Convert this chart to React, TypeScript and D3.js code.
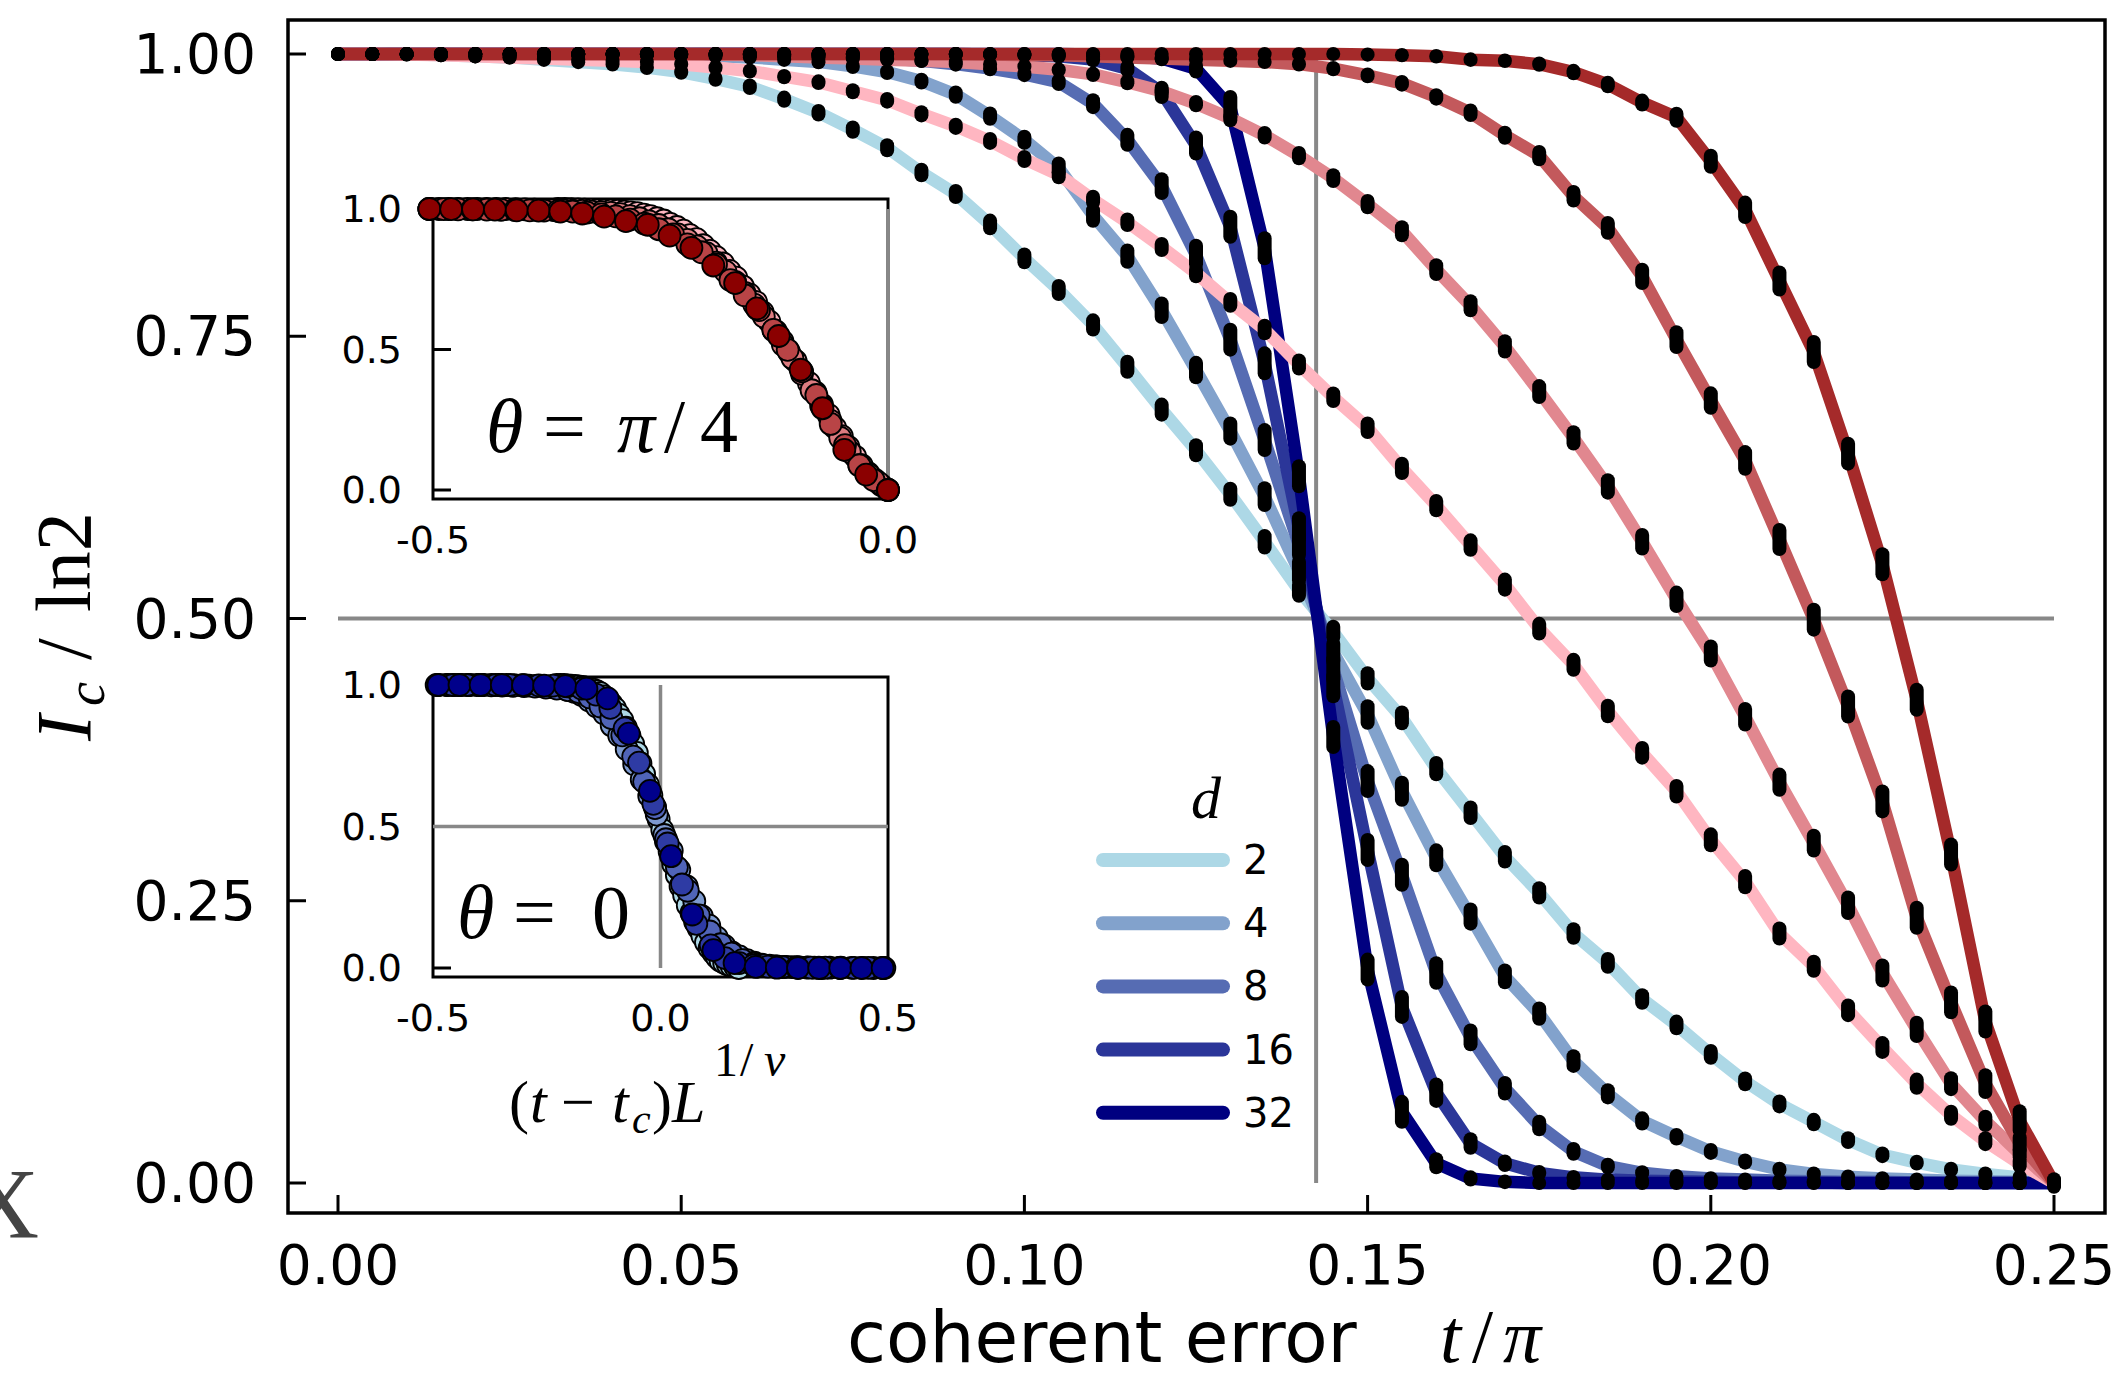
import React, { useEffect } from 'react';
import * as d3 from 'd3';

// sample points, coherent error t/π
const tValues = [
  0, 0.005, 0.01, 0.015, 0.02, 0.025, 0.03, 0.035, 0.04, 0.045,
  0.05, 0.055, 0.06, 0.065, 0.07, 0.075, 0.08, 0.085, 0.09, 0.095,
  0.1, 0.105, 0.11, 0.115, 0.12, 0.125, 0.13, 0.135, 0.14, 0.145,
  0.15, 0.155, 0.16, 0.165, 0.17, 0.175, 0.18, 0.185, 0.19, 0.195,
  0.2, 0.205, 0.21, 0.215, 0.22, 0.225, 0.23, 0.235, 0.24, 0.245, 0.25,
];

// theta = 0, bond dimension d = 2, 4, 8, 16, 32
const blueD2 = [
  1.0, 1.0, 1.0, 0.999, 0.998, 0.997, 0.995, 0.993, 0.991, 0.988,
  0.984, 0.978, 0.971, 0.96, 0.948, 0.933, 0.917, 0.895, 0.876, 0.849,
  0.819, 0.791, 0.76, 0.723, 0.685, 0.649, 0.61, 0.568, 0.525, 0.488,
  0.447, 0.412, 0.367, 0.328, 0.289, 0.257, 0.221, 0.195, 0.163, 0.14,
  0.114, 0.09, 0.07, 0.054, 0.038, 0.025, 0.018, 0.012, 0.008, 0.005, 0.0,
];
const blueD4 = [
  1.0, 1.0, 1.0, 1.0, 1.0, 1.0, 1.0, 1.0, 1.0, 0.9995,
  0.999, 0.998, 0.997, 0.995, 0.993, 0.989, 0.984, 0.976, 0.964, 0.945,
  0.924, 0.899, 0.857, 0.821, 0.773, 0.72, 0.666, 0.608, 0.542, 0.47,
  0.415, 0.347, 0.288, 0.236, 0.183, 0.15, 0.108, 0.079, 0.055, 0.041,
  0.028, 0.019, 0.012, 0.008, 0.0056, 0.004, 0.003, 0.002, 0.0015, 0.001, 0.0,
];
const blueD8 = [
  1.0, 1.0, 1.0, 1.0, 1.0, 1.0, 1.0, 1.0, 1.0, 1.0,
  1.0, 1.0, 1.0, 0.999, 0.998, 0.997, 0.996, 0.994, 0.991, 0.987,
  0.982, 0.975, 0.956, 0.924, 0.883, 0.822, 0.747, 0.658, 0.565, 0.455,
  0.356, 0.273, 0.186, 0.129, 0.084, 0.051, 0.028, 0.015, 0.009, 0.006,
  0.004, 0.003, 0.002, 0.0015, 0.001, 0.001, 0.0005, 0.0005, 0.0, 0.0, 0.0,
];
const blueD16 = [
  1.0, 1.0, 1.0, 1.0, 1.0, 1.0, 1.0, 1.0, 1.0, 1.0,
  1.0, 1.0, 1.0, 1.0, 1.0, 1.0, 1.0, 1.0, 1.0, 0.9995,
  0.999, 0.998, 0.995, 0.987, 0.966, 0.919, 0.847, 0.726, 0.58, 0.44,
  0.295, 0.156, 0.08, 0.035, 0.0175, 0.009, 0.005, 0.003, 0.002, 0.0015,
  0.001, 0.0005, 0.0005, 0.0005, 0.0, 0.0, 0.0, 0.0, 0.0, 0.0, 0.0,
];
const blueD32 = [
  1.0, 1.0, 1.0, 1.0, 1.0, 1.0, 1.0, 1.0, 1.0, 1.0,
  1.0, 1.0, 1.0, 1.0, 1.0, 1.0, 1.0, 1.0, 1.0, 1.0,
  1.0, 1.0, 0.9995, 0.998, 0.996, 0.987, 0.953, 0.828, 0.626, 0.395,
  0.189, 0.063, 0.0175, 0.004, 0.001, 0.0, 0.0, 0.0, 0.0, 0.0,
  0.0, 0.0, 0.0, 0.0, 0.0, 0.0, 0.0, 0.0, 0.0, 0.0, 0.0,
];

// theta = π/4
const redD2 = [
  1.0, 1.0, 0.9995, 0.999, 0.998, 0.997, 0.996, 0.995, 0.994, 0.993,
  0.991, 0.988, 0.985, 0.98, 0.975, 0.967, 0.959, 0.947, 0.936, 0.923,
  0.907, 0.893, 0.871, 0.851, 0.829, 0.806, 0.78, 0.756, 0.725, 0.696,
  0.669, 0.633, 0.6, 0.565, 0.53, 0.491, 0.459, 0.418, 0.381, 0.347,
  0.304, 0.267, 0.221, 0.192, 0.153, 0.12, 0.088, 0.06, 0.037, 0.017, 0.0,
];
const redD4 = [
  1.0, 1.0, 1.0, 1.0, 1.0, 1.0, 1.0, 1.0, 1.0, 1.0,
  1.0, 0.9995, 0.999, 0.998, 0.997, 0.996, 0.995, 0.994, 0.993, 0.991,
  0.989, 0.986, 0.982, 0.975, 0.967, 0.956, 0.943, 0.928, 0.91, 0.89,
  0.867, 0.843, 0.809, 0.777, 0.741, 0.701, 0.66, 0.617, 0.568, 0.517,
  0.469, 0.413, 0.355, 0.301, 0.246, 0.186, 0.136, 0.088, 0.055, 0.026, 0.0,
];
const redD8 = [
  1.0, 1.0, 1.0, 1.0, 1.0, 1.0, 1.0, 1.0, 1.0, 1.0,
  1.0, 1.0, 1.0, 1.0, 1.0, 1.0, 1.0, 1.0, 1.0, 0.9995,
  0.999, 0.999, 0.998, 0.997, 0.996, 0.995, 0.994, 0.993, 0.991, 0.987,
  0.981, 0.974, 0.962, 0.948, 0.928, 0.91, 0.874, 0.846, 0.803, 0.747,
  0.693, 0.64, 0.57, 0.499, 0.422, 0.338, 0.235, 0.16, 0.088, 0.035, 0.0,
];
const redD16 = [
  1.0, 1.0, 1.0, 1.0, 1.0, 1.0, 1.0, 1.0, 1.0, 1.0,
  1.0, 1.0, 1.0, 1.0, 1.0, 1.0, 1.0, 1.0, 1.0, 1.0,
  1.0, 1.0, 1.0, 1.0, 1.0, 1.0, 1.0, 1.0, 1.0, 1.0,
  0.9995, 0.999, 0.998, 0.995, 0.994, 0.991, 0.984, 0.973, 0.957, 0.944,
  0.905, 0.862, 0.799, 0.736, 0.646, 0.548, 0.428, 0.291, 0.143, 0.055, 0.0,
];

const legendLabels = ['2', '4', '8', '16', '32'];
const blueColors = ['#add8e6', '#82a2cc', '#566cb3', '#2b3699', '#000080'];
const redColors = ['#ffb6c1', '#e1878f', '#c3595c', '#a52a2a'];
const blueMarkerColors = ['#add8e6', '#7d9ad0', '#5064b8', '#2e3ba4', '#00008b'];
const redMarkerColors = ['#ffb6c1', '#dc7c80', '#b94446', '#8b0000'];

// collapse parameters: x' = (t - tc) * scale
const tcTheta0 = 0.1425;
const tcThetaPi4 = 0.25;
const blueCollapseScale = [1.6, 3.3, 4.8, 6.3, 9.3];
const redCollapseScale = [1.45, 2.1, 3.15, 4.8];

const mainXTicks = [0, 0.05, 0.1, 0.15, 0.2, 0.25];
const mainYTicks = [0, 0.25, 0.5, 0.75, 1];
const insetYTicks = [0, 0.5, 1];
const insetXTicksPi4 = [-0.5, 0];
const insetXTicks0 = [-0.5, 0, 0.5];

const blueSeries = [blueD2, blueD4, blueD8, blueD16, blueD32];
const redSeries = [redD2, redD4, redD8, redD16];

const SANS = 'DejaVu Sans, sans-serif';
const SERIF = 'Liberation Serif, serif';
const GRAY = '#888888';

// plain hyphen for negative tick labels
const fmt1 = (v: number) => d3.format('.1f')(v).replace('−', '-');
const fmt2 = (v: number) => d3.format('.2f')(v);

type InsetProps = {
  frame: { left: number; right: number; top: number; bottom: number };
  xDomain: [number, number];
  yRange: [number, number];
  xTicks: number[];
  series: number[][];
  colors: string[];
  scales: number[];
  tc: number;
  hLine?: boolean;
};

function Inset({ frame, xDomain, yRange, xTicks, series, colors, scales, tc, hLine }: InsetProps) {
  const xs = d3.scaleLinear().domain(xDomain).range([frame.left, frame.right]);
  const ys = d3.scaleLinear().domain([0, 1]).range(yRange);
  return (
    <g>
      <rect x={frame.left} y={frame.top} width={frame.right - frame.left} height={frame.bottom - frame.top}
        fill="white" stroke="black" strokeWidth={3} />
      {insetYTicks.map(v => (
        <g key={v}>
          <line x1={frame.left} x2={frame.left + 18} y1={ys(v)} y2={ys(v)} stroke="black" strokeWidth={3} />
          <text x={402} y={ys(v)} dominantBaseline="central" textAnchor="end"
            fontFamily={SANS} fontSize={38}>{fmt1(v)}</text>
        </g>
      ))}
      {xTicks.map(v => (
        <text key={v} x={xs(v)} y={frame.bottom + 54} textAnchor="middle"
          fontFamily={SANS} fontSize={38}>{fmt1(v)}</text>
      ))}
      {hLine && (
        <line x1={xs(xDomain[0])} x2={xs(xDomain[1])} y1={ys(0.5)} y2={ys(0.5)} stroke={GRAY} strokeWidth={3.5} />
      )}
      <line x1={xs(0)} x2={xs(0)} y1={ys(1)} y2={ys(0)} stroke={GRAY} strokeWidth={3.5} />
      {series.map((vals, k) => (
        <g key={k}>
          {vals.map((v, i) => {
            const xp = (tValues[i] - tc) * scales[k];
            if (xp < xDomain[0] - 0.012 || xp > xDomain[1] + 0.012) return null;
            return (
              <circle key={i} cx={xs(xp)} cy={ys(v)} r={11} fill={colors[k]} stroke="black" strokeWidth={1.8} />
            );
          })}
        </g>
      ))}
    </g>
  );
}

export default function App() {
  useEffect(() => {
    document.body.style.margin = '0';
  }, []);

  const frame = { left: 288, top: 20, right: 2105, bottom: 1213 };
  const x = d3.scaleLinear().domain([0, 0.25]).range([338, 2054]);
  const y = d3.scaleLinear().domain([0, 1]).range([1183, 54]);
  const line = d3.line<number>().x((_, i) => x(tValues[i])).y(v => y(v));

  // vertical stretch of the sample markers follows the local drop of the curve
  const dotHalf = (vals: number[], i: number) => {
    const a = vals[Math.max(0, i - 1)];
    const b = vals[Math.min(vals.length - 1, i + 1)];
    return Math.min(10, Math.abs(y(a) - y(b)) * 0.06);
  };

  const allSeries = [...blueSeries, ...redSeries];
  const allColors = [...blueColors, ...redColors];

  return (
    <svg width={2120} height={1378} style={{ display: 'block', background: 'white' }}>
      {/* reference lines */}
      <line x1={x(0)} x2={x(0.25)} y1={y(0.5)} y2={y(0.5)} stroke={GRAY} strokeWidth={4} />
      <line x1={x(tcTheta0)} x2={x(tcTheta0)} y1={y(1)} y2={y(0)} stroke={GRAY} strokeWidth={4} />

      {/* curves */}
      {allSeries.map((vals, k) => (
        <path key={k} d={line(vals) || ''} fill="none" stroke={allColors[k]} strokeWidth={12.5}
          strokeLinejoin="round" strokeLinecap="round" />
      ))}

      {/* sampled points */}
      {allSeries.map((vals, k) => (
        <g key={'d' + k}>
          {vals.map((v, i) => {
            const h = dotHalf(vals, i);
            return (
              <line key={i} x1={x(tValues[i])} x2={x(tValues[i])} y1={y(v) - h} y2={y(v) + h}
                stroke="black" strokeWidth={14} strokeLinecap="round" />
            );
          })}
        </g>
      ))}

      {/* frame and ticks */}
      <rect x={frame.left} y={frame.top} width={frame.right - frame.left} height={frame.bottom - frame.top}
        fill="none" stroke="black" strokeWidth={3.5} />
      {mainYTicks.map(v => (
        <g key={v}>
          <line x1={frame.left} x2={frame.left + 18} y1={y(v)} y2={y(v)} stroke="black" strokeWidth={3} />
          <text x={256} y={y(v)} dominantBaseline="central" textAnchor="end"
            fontFamily={SANS} fontSize={55}>{fmt2(v)}</text>
        </g>
      ))}
      {mainXTicks.map(v => (
        <g key={v}>
          <line x1={x(v)} x2={x(v)} y1={frame.bottom} y2={frame.bottom - 18} stroke="black" strokeWidth={3} />
          <text x={x(v)} y={1284} textAnchor="middle" fontFamily={SANS} fontSize={55}>{fmt2(v)}</text>
        </g>
      ))}

      {/* axis labels */}
      <text x={847} y={1362} fontFamily={SANS} fontSize={71}>coherent error</text>
      <text y={1362} fontFamily={SERIF} fontSize={76}>
        <tspan x={1440} fontStyle="italic">t</tspan>
        <tspan x={1472}>/</tspan>
        <tspan x={1503} fontStyle="italic">π</tspan>
      </text>
      <g transform="translate(90,0) rotate(-90)">
        <text fontFamily={SERIF} fontSize={78}>
          <tspan x={-741} fontStyle="italic">I</tspan>
          <tspan x={-706} fontStyle="italic" fontSize={54} dy={14}>c</tspan>
          <tspan x={-660} dy={-14}>/</tspan>
          <tspan x={-612}>ln2</tspan>
        </text>
      </g>
      <text x={-33} y={1237} fontFamily={SERIF} fontSize={100} fill="#444">X</text>

      {/* legend */}
      <text x={1206} y={818} textAnchor="middle" fontFamily={SERIF} fontStyle="italic" fontSize={60}>d</text>
      {legendLabels.map((lab, i) => {
        const ly = 860 + i * 63.2;
        return (
          <g key={lab}>
            <line x1={1103} x2={1223} y1={ly} y2={ly} stroke={blueColors[i]} strokeWidth={14} strokeLinecap="round" />
            <text x={1243} y={ly} dominantBaseline="central" fontFamily={SANS} fontSize={40}>{lab}</text>
          </g>
        );
      })}

      {/* inset: theta = pi/4 */}
      <Inset frame={{ left: 433, right: 888, top: 199, bottom: 499 }} xDomain={[-0.5, 0]} yRange={[490, 209]}
        xTicks={insetXTicksPi4} series={redSeries} colors={redMarkerColors} scales={redCollapseScale} tc={tcThetaPi4} />
      <text y={452} fontFamily={SERIF} fontSize={76}>
        <tspan x={486} fontStyle="italic">θ</tspan>
        <tspan x={543}>=</tspan>
        <tspan x={617} fontStyle="italic">π</tspan>
        <tspan x={664}>/</tspan>
        <tspan x={700}>4</tspan>
      </text>

      {/* inset: theta = 0 */}
      <Inset frame={{ left: 433, right: 888, top: 677, bottom: 977 }} xDomain={[-0.5, 0.5]} yRange={[968, 685]}
        xTicks={insetXTicks0} series={blueSeries} colors={blueMarkerColors} scales={blueCollapseScale} tc={tcTheta0} hLine />
      <text y={938} fontFamily={SERIF} fontSize={76}>
        <tspan x={457} fontStyle="italic">θ</tspan>
        <tspan x={513}>=</tspan>
        <tspan x={592}>0</tspan>
      </text>
      <text y={1122} fontFamily={SERIF} fontSize={60}>
        <tspan x={509}>(</tspan>
        <tspan x={530} fontStyle="italic">t</tspan>
        <tspan x={561}>−</tspan>
        <tspan x={612} fontStyle="italic">t</tspan>
        <tspan x={632} fontStyle="italic" fontSize={42} dy={11}>c</tspan>
        <tspan x={652} dy={-11}>)</tspan>
        <tspan x={672} fontStyle="italic">L</tspan>
        <tspan x={714} fontSize={48} dy={-46}>1</tspan>
        <tspan x={740} fontSize={48}>/</tspan>
        <tspan x={764} fontSize={48} fontStyle="italic">ν</tspan>
      </text>
    </svg>
  );
}
